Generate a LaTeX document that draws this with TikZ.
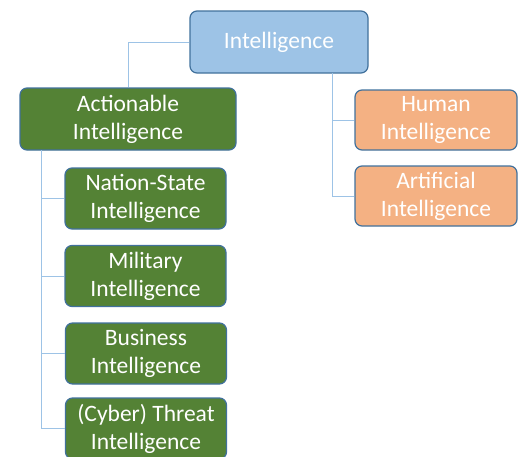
\documentclass[tikz,border=0pt]{standalone}
\usepackage{fontspec}
\setmainfont{Carlito}
\definecolor{bluefill}{RGB}{157,195,230}
\definecolor{greenfill}{RGB}{84,130,53}
\definecolor{orangefill}{RGB}{244,177,131}
\definecolor{boxedge}{RGB}{65,113,156}
\definecolor{linkcol}{RGB}{157,195,230}
\begin{document}
\begin{tikzpicture}[x=1pt,y=-1pt,
  box/.style={draw=boxedge,line width=1.2pt,rounded corners=7pt,text=white,
    font=\fontsize{23.5}{28}\selectfont,align=center,inner sep=0pt},
  link/.style={draw=linkcol,line width=1pt}]
\useasboundingbox (0,0) rectangle (523,456);
\node[box,fill=bluefill,minimum width=178pt,minimum height=62pt] (int) at (279,42) {Intelligence};
\node[box,fill=greenfill,minimum width=216pt,minimum height=62pt] (act) at (128,119) {Actionable\\Intelligence};
\node[box,fill=orangefill,minimum width=162pt,minimum height=60pt] (hum) at (436,120) {Human\\Intelligence};
\node[box,fill=orangefill,minimum width=162pt,minimum height=60pt] (art) at (436,196) {Artificial\\Intelligence};
\node[box,fill=greenfill,minimum width=161pt,minimum height=61pt] (nat) at (145.5,198.5) {Nation-State\\Intelligence};
\node[box,fill=greenfill,minimum width=161pt,minimum height=61pt] (mil) at (145.5,276) {Military\\Intelligence};
\node[box,fill=greenfill,minimum width=161pt,minimum height=61pt] (bus) at (146,353.5) {Business\\Intelligence};
\node[box,fill=greenfill,minimum width=161pt,minimum height=61pt] (cyb) at (146,428.5) {(Cyber) Threat\\Intelligence};
\coordinate (rt) at (332,73);
\coordinate (lb) at (41,150);
\path[link] (int.west) -| (act.north);
\path[link] (rt) |- (hum.west);
\path[link] (rt) |- (art.west);
\path[link] (lb) |- (nat.west);
\path[link] (lb) |- (mil.west);
\path[link] (lb) |- (bus.west);
\path[link] (lb) |- (cyb.west);
\end{tikzpicture}
\end{document}
